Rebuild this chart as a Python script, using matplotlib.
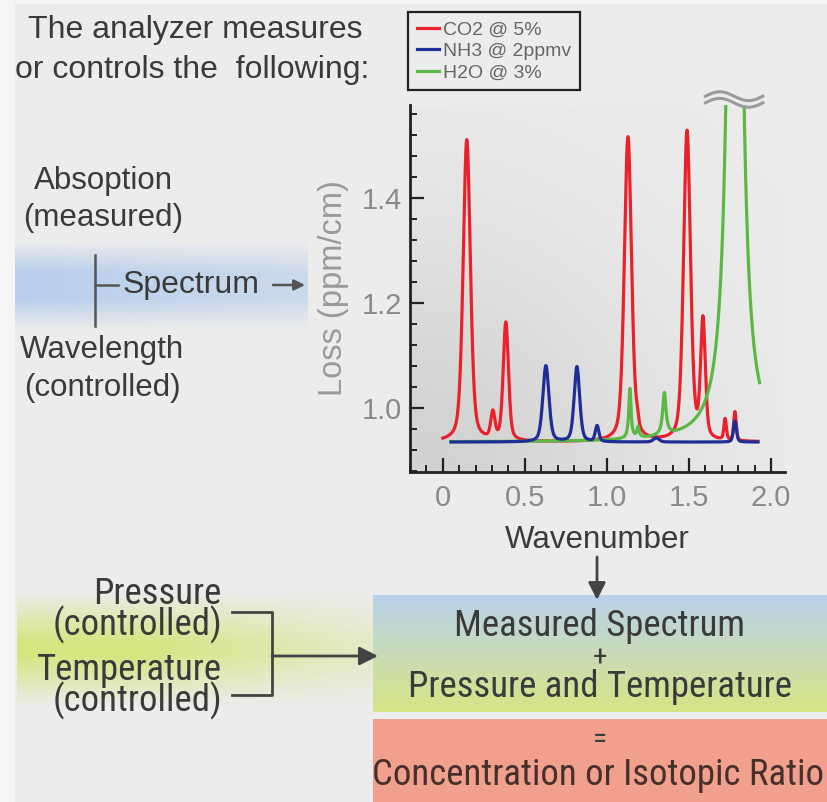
import numpy as np
import matplotlib

matplotlib.use("Agg")
import matplotlib.pyplot as plt
from matplotlib import font_manager
from matplotlib.patches import Rectangle
from matplotlib.ticker import MultipleLocator, FixedLocator
from matplotlib.transforms import blended_transform_factory

# peak tables: centre (wavenumber), height above baseline, half-width
CO2_CENTERS = [0.146, 0.305, 0.384, 1.128, 1.185, 1.488, 1.585, 1.72, 1.78]
CO2_HEIGHTS = [0.575, 0.05, 0.225, 0.58, 0.015, 0.59, 0.225, 0.04, 0.055]
CO2_WIDTHS = [0.026, 0.015, 0.019, 0.026, 0.010, 0.025, 0.017, 0.009, 0.009]
CO2_SPAN = [0.0, 1.92]

NH3_CENTERS = [0.628, 0.817, 0.94, 1.30, 1.78]
NH3_HEIGHTS = [0.145, 0.143, 0.03, 0.008, 0.04]
NH3_WIDTHS = [0.022, 0.020, 0.013, 0.020, 0.011]
NH3_SPAN = [0.05, 1.92]

H2O_CENTERS = [1.14, 1.19, 1.35, 1.78]
H2O_HEIGHTS = [0.095, 0.02, 0.08, 2.6]
H2O_WIDTHS = [0.008, 0.008, 0.012, 0.032]
H2O_SPAN = [0.05, 1.93]

BASELINE = 0.935
LABELS = ["CO2 @ 5%", "NH3 @ 2ppmv", "H2O @ 3%"]
COLORS = ["#e8212b", "#1f2d96", "#5cb844"]

X_TICKS = [0, 0.5, 1.0, 1.5, 2.0]
X_TICK_LABELS = ["0", "0.5", "1.0", "1.5", "2.0"]
Y_TICKS = [1.0, 1.2, 1.4]
Y_TICK_LABELS = ["1.0", "1.2", "1.4"]
XLIM = (-0.2, 2.085)
YLIM = (0.878, 1.577)

BG = "#ececec"
INK = "#3a3a3a"

# a condensed face for the lower part if one is installed, otherwise plain sans
installed = {f.name for f in font_manager.fontManager.ttflist}
SANS = "Liberation Sans" if "Liberation Sans" in installed else "DejaVu Sans"
NARROW, NARROW_SIZE = SANS, 23
for name in ["Liberation Sans Narrow", "Arial Narrow", "Roboto Condensed",
             "Open Sans Condensed", "Nimbus Sans Narrow"]:
    if name in installed:
        NARROW, NARROW_SIZE = name, 26.5
        break
plt.rcParams["font.family"] = SANS


def spectrum(centers, heights, widths, span, lorentz=0.4, n=2000):
    # pseudo-Voigt line shape, half-width w for both parts
    x = np.linspace(span[0], span[1], n)
    y = np.full_like(x, BASELINE)
    for c, h, w in zip(centers, heights, widths):
        lor = w ** 2 / ((x - c) ** 2 + w ** 2)
        gau = np.exp(-np.log(2) * (x - c) ** 2 / w ** 2)
        y += h * (lorentz * lor + (1 - lorentz) * gau)
    return x, y


def rgba(h, w, rgb, alpha):
    img = np.zeros((h, w, 4))
    img[..., :3] = rgb
    img[..., 3] = alpha
    return img


fig = plt.figure(figsize=(8.27, 8.02), dpi=100)
fig.patch.set_facecolor("#f5f5f5")

# full-figure canvas in pixel units (y downwards) for the diagram parts
bg = fig.add_axes([0, 0, 1, 1], zorder=0)
bg.axis("off")
bg.add_patch(Rectangle((15, 4), 812, 798, color=BG, lw=0, zorder=-5))

# blue band behind "Spectrum"
yy = np.linspace(0, 1, 60)[:, None]
xx = np.linspace(0, 1, 200)[None, :]
a = np.clip(np.minimum(yy, 1 - yy) / 0.35, 0, 1) * (1.0 - 0.4 * xx)
bg.imshow(rgba(60, 200, (0.72, 0.81, 0.93), a), extent=(15, 308, 330, 241),
          aspect="auto", interpolation="bilinear", zorder=-4)

# yellow-green band behind pressure / temperature
a = np.clip(np.minimum(yy, 1 - yy) / 0.45, 0, 1) * np.clip(1.35 - xx, 0, 1) ** 1.1
bg.imshow(rgba(60, 200, (0.84, 0.90, 0.50), a), extent=(17, 375, 708, 590),
          aspect="auto", interpolation="bilinear", zorder=-4)

# result boxes
t = np.linspace(0, 1, 100)[:, None, None]
img = (1 - t) * np.array([0.73, 0.82, 0.92]) + t * np.array([0.84, 0.90, 0.52])
bg.imshow(np.repeat(img, 2, axis=1), extent=(373, 827, 712, 595),
          aspect="auto", interpolation="bilinear", zorder=-4)
bg.add_patch(Rectangle((373, 719), 454, 83, color="#f0a08d", lw=0, zorder=-4))

bg.set_xlim(0, 827)
bg.set_ylim(802, 0)

# left-hand annotations
bg.text(28, 30, "The analyzer measures", fontsize=23, color=INK, va="center", ha="left")
bg.text(15, 70, "or controls the  following:", fontsize=23, color=INK, va="center", ha="left")
bg.text(103, 181, "Absoption", fontsize=22.5, color=INK, va="center", ha="center")
bg.text(103, 218, "(measured)", fontsize=22.5, color=INK, va="center", ha="center")
bg.text(102, 350, "Wavelength", fontsize=22.5, color=INK, va="center", ha="center")
bg.text(102, 388, "(controlled)", fontsize=22.5, color=INK, va="center", ha="center")
bg.plot([95, 95], [255, 326], color="#555555", lw=1.8)
bg.plot([95, 118], [285, 285], color="#555555", lw=1.8)
bg.text(123, 285, "Spectrum", fontsize=23, color=INK, va="center", ha="left")
bg.annotate("", xy=(305, 285), xytext=(273, 285),
            arrowprops=dict(arrowstyle="-|>", color="#555555", lw=1.8,
                            mutation_scale=16, shrinkA=0, shrinkB=0))

# pressure / temperature
bg.text(222, 610, "Pressure\n(controlled)", fontsize=NARROW_SIZE, family=NARROW, color=INK,
        va="center", ha="right", multialignment="right", linespacing=0.78)
bg.text(222, 686, "Temperature\n(controlled)", fontsize=NARROW_SIZE, family=NARROW, color=INK,
        va="center", ha="right", multialignment="right", linespacing=0.8)
bg.plot([232, 272, 272, 232], [612, 612, 695, 695], color="#444444", lw=2)
bg.annotate("", xy=(378, 656), xytext=(272, 656),
            arrowprops=dict(arrowstyle="-|>", color="#444444", lw=2,
                            mutation_scale=28, shrinkA=0, shrinkB=0))

# result texts
bg.text(600, 626, "Measured Spectrum", fontsize=NARROW_SIZE, family=NARROW, color=INK,
        ha="center", va="center")
bg.text(600, 658, "+", fontsize=21, family=NARROW, color=INK, ha="center", va="center")
bg.text(600, 687, "Pressure and Temperature", fontsize=NARROW_SIZE, family=NARROW, color=INK,
        ha="center", va="center")
bg.text(600, 740, "=", fontsize=21, family=NARROW, color=INK, ha="center", va="center")
bg.text(598, 775, "Concentration or Isotopic Ratio", fontsize=NARROW_SIZE, family=NARROW,
        color="#45302c", ha="center", va="center")

bg.text(597, 540, "Wavenumber", fontsize=22.5, color=INK, ha="center", va="center")
bg.annotate("", xy=(597, 600), xytext=(597, 557),
            arrowprops=dict(arrowstyle="-|>", color="#444444", lw=2,
                            mutation_scale=26, shrinkA=0, shrinkB=0))

# spectrum plot
ax = fig.add_axes([410 / 827, 1 - 472 / 802, 375 / 827, 367 / 802], zorder=2)
ax.patch.set_alpha(0)
u = np.linspace(0, 1, 200)[None, :]
v = np.linspace(1, 0, 200)[:, None]
shade = np.exp(-(u ** 2 + v ** 2) / 0.45)
gray = 0.925 - 0.10 * shade
ax.imshow(np.dstack([gray, gray, gray]), extent=(0, 1, 0, 1), transform=ax.transAxes,
          aspect="auto", zorder=0, interpolation="bilinear")

x, y = spectrum(CO2_CENTERS, CO2_HEIGHTS, CO2_WIDTHS, CO2_SPAN)
ax.plot(x, y, color=COLORS[0], lw=2.3, label=LABELS[0], zorder=3)
x, y = spectrum(H2O_CENTERS, H2O_HEIGHTS, H2O_WIDTHS, H2O_SPAN, lorentz=1.0)
ax.plot(x, y, color=COLORS[2], lw=2.3, label=LABELS[2], zorder=4)
x, y = spectrum(NH3_CENTERS, NH3_HEIGHTS, NH3_WIDTHS, NH3_SPAN)
ax.plot(x, y, color=COLORS[1], lw=2.3, label=LABELS[1], zorder=5)

ax.set_xlim(*XLIM)
ax.set_ylim(*YLIM)
for side in ("top", "right"):
    ax.spines[side].set_visible(False)
for side in ("left", "bottom"):
    ax.spines[side].set_linewidth(2.0)
    ax.spines[side].set_color("#222222")
ax.xaxis.set_major_locator(FixedLocator(X_TICKS))
ax.set_xticklabels(X_TICK_LABELS)
ax.xaxis.set_minor_locator(MultipleLocator(0.1))
ax.yaxis.set_major_locator(FixedLocator(Y_TICKS))
ax.set_yticklabels(Y_TICK_LABELS)
ax.yaxis.set_minor_locator(MultipleLocator(0.04))
ax.tick_params(which="major", direction="in", length=10, width=1.6, color="#222222",
               labelsize=21, labelcolor="#8a8a8a")
ax.tick_params(which="minor", direction="in", length=5, width=1.4, color="#222222")
ax.tick_params(axis="x", which="major", pad=9)
ax.tick_params(axis="y", which="major", pad=6)
ax.set_ylabel("Loss (ppm/cm)", fontsize=23.5, color="#9a9a9a", labelpad=9)

# axis break above the clipped H2O line
brk = blended_transform_factory(ax.transData, ax.transAxes)
wx = np.linspace(H2O_CENTERS[-1] - 0.18, H2O_CENTERS[-1] + 0.17, 60)
wave = 0.012 * np.sin(2 * np.pi * (wx - wx[0]) / (wx[-1] - wx[0]))
for off in (1.006, 1.024):
    ax.plot(wx, off + wave, color="#9a9a9a", lw=2.2, transform=brk, clip_on=False, zorder=8)

handles, labels = ax.get_legend_handles_labels()
idx = [labels.index(s) for s in LABELS]
leg = ax.legend([handles[i] for i in idx], LABELS, loc="upper left",
                bbox_to_anchor=(408 / 827, 1 - 12 / 802), bbox_transform=fig.transFigure,
                borderaxespad=0, fontsize=14, handlelength=1.15, handletextpad=0.2,
                labelspacing=0.2, borderpad=0.45, frameon=True, fancybox=False,
                framealpha=1, facecolor=BG, edgecolor="#222222")
leg.get_frame().set_linewidth(1.6)
for txt in leg.get_texts():
    txt.set_color("#666666")

fig.savefig("out.png", dpi=100, facecolor=fig.get_facecolor())
